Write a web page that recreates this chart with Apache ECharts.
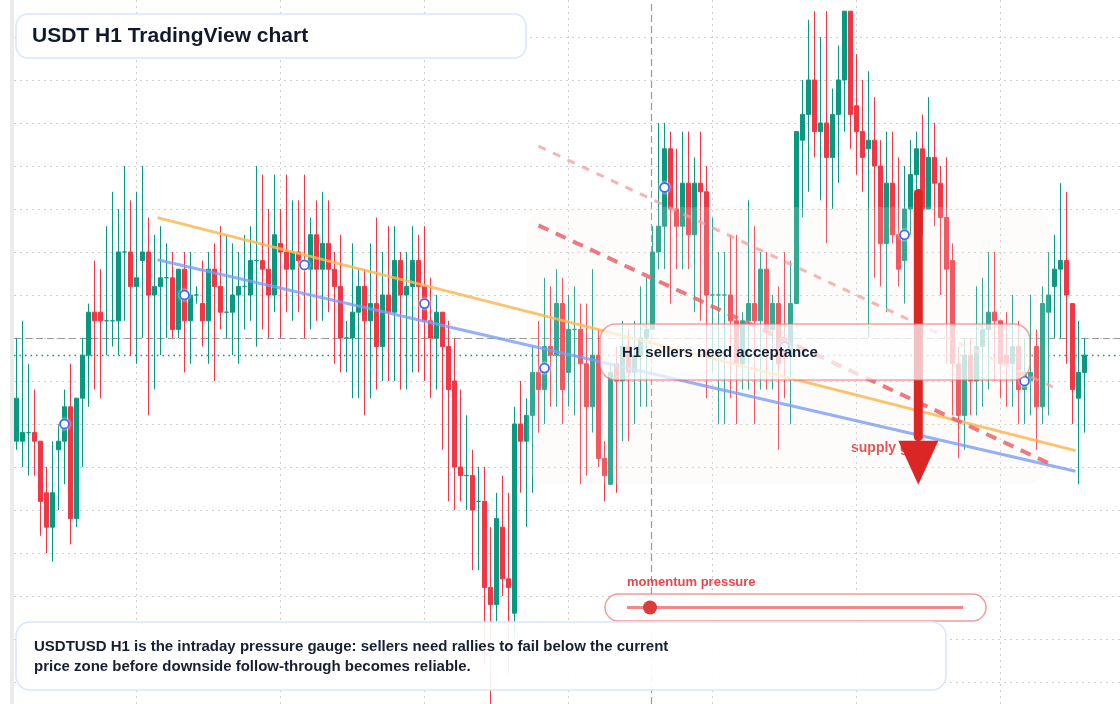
<!DOCTYPE html>
<html>
<head>
<meta charset="utf-8">
<title>USDT H1 TradingView chart</title>
<script src="https://cdn.jsdelivr.net/npm/echarts@6/dist/echarts.min.js"></script>
<style>
  html, body { margin: 0; padding: 0; background: #fff; }
  #chart { width: 1120px; height: 704px; }
</style>
</head>
<body>
<div id="chart"></div>
<script>
// H1 candles, oldest first (prices, 1 pip = 0.0001)
var openVals = [
  0.9988,0.9988,0.9989,0.9989,0.9988,0.9982,0.9978,0.9987,0.9988,0.9992,
  0.9979,0.9993,0.9998,1.0003,1.0003,1.0002,1.0002,1.0002,1.0010,1.0010,
  1.0006,1.0009,1.0010,1.0005,1.0006,1.0007,1.0007,1.0001,1.0008,1.0002,
  1.0005,1.0004,1.0002,1.0008,1.0006,1.0003,1.0003,1.0005,1.0006,1.0005,
  1.0009,1.0009,1.0008,1.0005,1.0011,1.0010,1.0008,1.0010,1.0009,1.0008,
  1.0012,1.0008,1.0011,1.0008,1.0006,1.0000,1.0000,1.0003,1.0006,1.0002,
  1.0004,0.9999,1.0005,1.0003,1.0009,1.0005,1.0006,1.0009,1.0006,1.0002,
  1.0000,1.0003,0.9999,0.9995,0.9985,0.9984,0.9984,0.9981,0.9981,0.9971,
  0.9969,0.9978,0.9972,0.9968,0.9990,0.9988,0.9991,0.9996,0.9994,0.9999,
  0.9998,1.0004,0.9996,1.0001,1.0001,0.9997,0.9992,0.9998,0.9986,0.9983,
  0.9997,0.9995,0.9999,0.9996,0.9998,1.0000,1.0001,1.0010,1.0013,1.0022,
  1.0015,1.0013,1.0018,1.0012,1.0018,1.0017,1.0005,1.0005,1.0005,1.0005,
  1.0002,0.9997,1.0002,1.0004,1.0002,1.0008,1.0001,1.0004,1.0000,0.9998,
  1.0004,1.0023,1.0026,1.0030,1.0024,1.0025,1.0021,1.0026,1.0030,1.0038,
  1.0027,1.0024,1.0022,1.0023,1.0020,1.0011,1.0018,1.0012,1.0009,1.0015,
  1.0019,1.0022,1.0015,1.0021,1.0018,1.0014,1.0009,0.9997,0.9991,0.9998,
  0.9995,0.9999,1.0001,1.0003,1.0002,0.9998,0.9997,0.9999,0.9994,0.9995,
  0.9999,0.9992,1.0003,1.0006,1.0008,1.0009,1.0004,0.9993,0.9996
];
var closeVals = [
  0.9993,0.9989,0.9989,0.9988,0.9981,0.9978,0.9982,0.9988,0.9992,0.9979,
  0.9993,0.9998,1.0003,1.0002,1.0002,1.0002,1.0002,1.0010,1.0010,1.0006,
  1.0007,1.0010,1.0005,1.0006,1.0007,1.0007,1.0001,1.0008,1.0002,1.0005,
  1.0005,1.0002,1.0008,1.0006,1.0003,1.0003,1.0005,1.0006,1.0006,1.0009,
  1.0009,1.0008,1.0005,1.0012,1.0010,1.0008,1.0010,1.0009,1.0008,1.0012,
  1.0008,1.0011,1.0008,1.0006,1.0000,1.0000,1.0003,1.0006,1.0002,1.0004,
  0.9999,1.0005,1.0003,1.0009,1.0005,1.0006,1.0009,1.0006,1.0002,1.0000,
  1.0003,0.9999,0.9994,0.9985,0.9984,0.9984,0.9980,0.9981,0.9971,0.9969,
  0.9979,0.9972,0.9971,0.9990,0.9988,0.9991,0.9996,0.9994,0.9999,0.9998,
  1.0004,0.9994,1.0001,1.0001,0.9997,0.9992,0.9998,0.9986,0.9984,0.9996,
  0.9995,0.9999,0.9996,0.9998,1.0000,1.0001,1.0010,1.0013,1.0022,1.0015,
  1.0013,1.0018,1.0012,1.0018,1.0017,1.0005,1.0005,1.0005,1.0005,1.0002,
  0.9997,1.0002,1.0004,1.0002,1.0008,1.0001,1.0004,0.9997,0.9998,1.0004,
  1.0024,1.0026,1.0030,1.0024,1.0025,1.0021,1.0026,1.0030,1.0038,1.0026,
  1.0024,1.0021,1.0023,1.0020,1.0011,1.0018,1.0012,1.0008,1.0015,1.0019,
  1.0022,1.0015,1.0021,1.0018,1.0014,1.0008,0.9997,0.9991,0.9998,0.9995,
  0.9999,1.0001,1.0003,1.0002,0.9997,0.9997,0.9999,0.9994,0.9996,0.9996,
  0.9992,1.0004,1.0005,1.0008,1.0009,1.0005,0.9994,0.9996,0.9998
];
var lowVals = [
  0.9987,0.9985,0.9984,0.9984,0.9977,0.9975,0.9974,0.9980,0.9983,0.9976,
  0.9978,0.9985,0.9992,0.9994,0.9993,0.9998,0.9999,0.9998,1.0002,0.9998,
  0.9997,1.0000,0.9991,0.9994,0.9998,1.0000,1.0000,1.0000,0.9996,0.9997,
  1.0004,0.9999,0.9997,0.9995,1.0001,1.0000,0.9998,0.9997,1.0001,1.0002,
  0.9999,1.0001,1.0000,1.0003,1.0000,1.0003,1.0002,1.0003,1.0000,1.0001,
  1.0002,1.0002,1.0003,0.9997,0.9996,0.9996,0.9993,0.9993,0.9991,0.9993,
  0.9994,0.9995,0.9995,0.9995,0.9994,0.9994,0.9996,0.9996,0.9995,0.9993,
  0.9994,0.9987,0.9981,0.9980,0.9981,0.9980,0.9973,0.9973,0.9962,0.9957,
  0.9967,0.9970,0.9961,0.9965,0.9982,0.9978,0.9982,0.9989,0.9990,0.9992,
  0.9992,0.9990,0.9992,0.9991,0.9983,0.9984,0.9989,0.9985,0.9981,0.9983,
  0.9982,0.9988,0.9988,0.9990,0.9992,0.9992,1.0001,1.0008,1.0008,1.0004,
  1.0008,1.0008,1.0008,1.0003,1.0002,0.9993,0.9996,0.9990,0.9990,0.9993,
  0.9990,0.9994,0.9994,0.9990,0.9994,0.9994,0.9994,0.9987,0.9993,0.9990,
  1.0004,1.0014,1.0017,1.0021,1.0016,1.0011,1.0015,1.0018,1.0024,1.0022,
  1.0019,1.0017,1.0000,1.0007,1.0006,1.0003,1.0011,1.0006,1.0004,1.0012,
  1.0015,1.0012,1.0015,1.0013,1.0005,0.9997,0.9991,0.9986,0.9987,0.9991,
  0.9991,0.9992,0.9994,0.9995,0.9993,0.9992,0.9992,0.9990,0.9990,0.9991,
  0.9987,0.9990,0.9991,1.0000,1.0000,0.9997,0.9990,0.9983,0.9989
];
var highVals = [
  1.0000,1.0002,0.9997,0.9994,0.9988,0.9985,0.9988,0.9990,0.9994,0.9997,
  0.9993,1.0000,1.0004,1.0009,1.0008,1.0013,1.0017,1.0015,1.0020,1.0016,
  1.0017,1.0020,1.0014,1.0012,1.0013,1.0011,1.0010,1.0008,1.0010,1.0010,
  1.0006,1.0009,1.0010,1.0011,1.0013,1.0012,1.0011,1.0010,1.0012,1.0013,
  1.0020,1.0019,1.0015,1.0019,1.0015,1.0019,1.0016,1.0016,1.0019,1.0014,
  1.0016,1.0017,1.0016,1.0010,1.0012,1.0002,1.0011,1.0008,1.0008,1.0011,
  1.0014,1.0010,1.0013,1.0013,1.0010,1.0010,1.0013,1.0012,1.0013,1.0007,
  1.0005,1.0003,1.0002,1.0000,0.9994,0.9991,0.9987,0.9985,0.9985,0.9978,
  0.9982,0.9984,0.9982,0.9992,0.9995,0.9993,0.9999,1.0002,1.0007,1.0006,
  1.0008,1.0007,1.0005,1.0006,1.0004,1.0004,1.0008,1.0001,0.9988,0.9997,
  0.9999,1.0002,1.0001,1.0002,1.0006,1.0007,1.0013,1.0025,1.0025,1.0024,
  1.0022,1.0024,1.0024,1.0021,1.0024,1.0020,1.0014,1.0010,1.0010,1.0012,
  1.0012,1.0003,1.0016,1.0013,1.0010,1.0010,1.0005,1.0006,1.0010,1.0009,
  1.0024,1.0030,1.0037,1.0038,1.0035,1.0038,1.0029,1.0034,1.0038,1.0038,
  1.0033,1.0030,1.0031,1.0028,1.0023,1.0024,1.0024,1.0021,1.0020,1.0023,
  1.0024,1.0026,1.0028,1.0025,1.0020,1.0021,1.0011,0.9999,1.0000,1.0000,
  1.0006,1.0007,1.0010,1.0010,1.0002,1.0003,1.0005,1.0002,1.0000,1.0005,
  1.0001,1.0006,1.0010,1.0012,1.0018,1.0017,1.0004,1.0002,1.0000
];

// bars with a blue pivot marker
var markerIdx = [8, 28, 48, 68, 88, 108, 128, 148, 168];

// price grid and time grid (labels are off-canvas)
var gridLevels = [0.9960, 0.9965, 0.9970, 0.9975, 0.9980, 0.9985, 0.9990, 0.9995,
                  1.0000, 1.0005, 1.0010, 1.0015, 1.0020, 1.0025, 1.0030, 1.0035];
var gridBars = [20, 44, 68, 92, 116, 140, 164];

// reference levels
var pivotLevel = 1.0000;
var lastPrice = 0.9998;
var sessionBar = 105.8;

// drawn lines, [bar position, price]
var orangeTrend = [[23.5, 1.00140], [176.5, 0.99869]];
var blueTrend = [[23.5, 1.00091], [176.5, 0.99845]];
var redChannel = [[87, 1.00131], [172.8, 0.99852]];
var pinkChannel = [[87, 1.00223], [172.7, 0.99943]];
var arrowShaft = [[150.3, 1.00168], [150.3, 0.99885]];
var arrowHead = [[150.3, 0.99855]];

var yMin = 0.995744, yMax = 1.003930;
var totalBars = 184; // empty slots on the right

// hourly labels (hidden)
var categories = [];
var t0 = Date.UTC(2024, 4, 6, 0);
for (var i = 0; i < totalBars; i++) {
  var d = new Date(t0 + i * 3600000);
  categories.push((d.getUTCMonth() + 1) + '/' + d.getUTCDate() + ' ' + d.getUTCHours() + ':00');
}

var candles = openVals.map(function (o, i) {
  return [o, closeVals[i], lowVals[i], highVals[i]];
});
var markers = markerIdx.map(function (i) {
  return [i, +((openVals[i] + closeVals[i]) / 2).toFixed(5)];
});

var UP = '#089981', DOWN = '#f23645';
var FONT = '"Liberation Sans", Arial, sans-serif';
var INK = '#172033';

// candle plot: bar i centred at 16.5 + 6 * i px
var plotLeft = 16.5, barPitch = 6, plotRight = 1120 - plotLeft - barPitch * (totalBars - 1);
// overlay grid spans the whole strip right of the axis bar
var overlayLeft = 14;

var refLines = [];
gridLevels.forEach(function (v) {
  refLines.push({ yAxis: v, lineStyle: { color: '#d0d0d0', type: [2, 4], width: 1 } });
});
gridBars.forEach(function (b) {
  refLines.push({ xAxis: b, lineStyle: { color: '#d0d0d0', type: [2, 4], width: 1 } });
});
refLines.push({ yAxis: pivotLevel, lineStyle: { color: '#9a9a9a', type: [7, 4], width: 1.2 } });
refLines.push({ yAxis: lastPrice, lineStyle: { color: UP, type: [1.5, 4], width: 1.3 } });
refLines.push({ xAxis: sessionBar, lineStyle: { color: '#9a9a9a', type: [7, 4], width: 1.2 } });

var chart = echarts.init(document.getElementById('chart'), null, { renderer: 'canvas' });

var hiddenY = {
  type: 'value', scale: true, min: yMin, max: yMax,
  axisLine: { show: false }, axisTick: { show: false },
  axisLabel: { show: false }, splitLine: { show: false }
};

chart.setOption({
  animation: false,
  backgroundColor: '#ffffff',
  grid: [
    { left: overlayLeft, right: 0, top: 0, bottom: 0 },
    { left: plotLeft, right: plotRight, top: 0, bottom: 0 }
  ],
  xAxis: [
    {
      // bar-position scale for drawings, matched to the candle grid
      gridIndex: 0,
      type: 'value',
      min: (overlayLeft - plotLeft) / barPitch,
      max: (1120 - plotLeft) / barPitch,
      show: false
    },
    {
      gridIndex: 1,
      type: 'category',
      data: categories,
      boundaryGap: false,
      axisLine: { show: false },
      axisTick: { show: false },
      axisLabel: { show: false },
      splitLine: { show: false }
    }
  ],
  yAxis: [
    Object.assign({ gridIndex: 0 }, hiddenY),
    Object.assign({ gridIndex: 1 }, hiddenY)
  ],
  series: [
    {
      type: 'candlestick',
      xAxisIndex: 1, yAxisIndex: 1,
      z: 2,
      silent: true,
      barWidth: 5,
      data: candles,
      itemStyle: {
        color: UP,
        color0: DOWN,
        borderColor: UP,
        borderColor0: DOWN,
        borderWidth: 1
      }
    },
    {
      type: 'line', xAxisIndex: 0, yAxisIndex: 0, z: 4, silent: true, symbol: 'none',
      data: orangeTrend,
      lineStyle: { color: '#fbb955', width: 3, opacity: 0.85 },
      markLine: {
        z: 1,
        silent: true,
        precision: 6,
        symbol: 'none',
        label: { show: false },
        emphasis: { disabled: true },
        data: refLines
      }
    },
    {
      type: 'line', xAxisIndex: 0, yAxisIndex: 0, z: 4, silent: true, symbol: 'none',
      data: blueTrend,
      lineStyle: { color: '#7b9cf4', width: 3, opacity: 0.8 }
    },
    {
      type: 'line', xAxisIndex: 0, yAxisIndex: 0, z: 4, silent: true, symbol: 'none',
      data: redChannel,
      lineStyle: { color: '#e8646c', width: 4, type: [11, 8], opacity: 0.85 }
    },
    {
      type: 'line', xAxisIndex: 0, yAxisIndex: 0, z: 4, silent: true, symbol: 'none',
      data: pinkChannel,
      lineStyle: { color: '#f19c9f', width: 3, type: [8, 8], opacity: 0.75 }
    },
    {
      type: 'line', xAxisIndex: 0, yAxisIndex: 0, zlevel: 1, z: 5, silent: true, symbol: 'none',
      data: arrowShaft,
      lineStyle: { color: '#dc2626', width: 9, cap: 'round' }
    },
    {
      type: 'scatter', xAxisIndex: 0, yAxisIndex: 0, zlevel: 1, z: 5, silent: true,
      data: arrowHead,
      symbol: 'triangle',
      symbolRotate: 180,
      symbolSize: [40, 44],
      itemStyle: { color: '#dc2626', opacity: 1 }
    },
    {
      type: 'scatter', xAxisIndex: 1, yAxisIndex: 1, z: 6, silent: true,
      data: markers,
      symbol: 'circle',
      symbolSize: 9,
      itemStyle: {
        color: '#ffffff',
        opacity: 1,
        borderColor: '#3d6cf0',
        borderWidth: 1.8,
        shadowBlur: 3,
        shadowColor: 'rgba(255,255,255,0.9)'
      }
    }
  ],
  graphic: [
    // left axis strip
    { type: 'rect', z: 1, silent: true, shape: { x: 10, y: 0, width: 4, height: 704 }, style: { fill: '#ebebeb' } },
    // supply zone shading
    { type: 'rect', z: 3, silent: true, shape: { x: 527, y: 207, width: 523, height: 277, r: 22 },
      style: { fill: 'rgba(250,238,228,0.18)' } },
    { type: 'text', z: 1, silent: true, x: 851, y: 448,
      style: { text: 'supply gate', fill: '#e03535', font: 'bold 14px ' + FONT, verticalAlign: 'middle' } },
    // acceptance box
    { type: 'rect', zlevel: 2, z: 10, silent: true, shape: { x: 600, y: 324, width: 430, height: 56, r: 16 },
      style: { fill: 'rgba(255,255,255,0.72)', stroke: 'rgba(236,100,100,0.6)', lineWidth: 1.6 } },
    { type: 'text', zlevel: 2, z: 11, silent: true, x: 622, y: 353,
      style: { text: 'H1 sellers need acceptance', fill: INK, font: 'bold 15px ' + FONT, verticalAlign: 'middle' } },
    // title
    { type: 'rect', zlevel: 2, z: 10, silent: true, shape: { x: 16, y: 14, width: 510, height: 44, r: 12 },
      style: { fill: '#ffffff', stroke: '#d9e6fb', lineWidth: 1.5 } },
    { type: 'text', zlevel: 2, z: 11, silent: true, x: 32, y: 36,
      style: { text: 'USDT H1 TradingView chart', fill: '#111a2c', font: 'bold 21px ' + FONT, verticalAlign: 'middle' } },
    // momentum pressure gauge
    { type: 'text', zlevel: 2, z: 11, silent: true, x: 627, y: 582,
      style: { text: 'momentum pressure', fill: '#e5484d', font: 'bold 13px ' + FONT, verticalAlign: 'middle' } },
    { type: 'rect', zlevel: 2, z: 10, silent: true, shape: { x: 605, y: 594, width: 381, height: 27, r: 13.5 },
      style: { fill: 'rgba(255,255,255,0.9)', stroke: 'rgba(232,90,90,0.6)', lineWidth: 1.5 } },
    { type: 'line', zlevel: 2, z: 11, silent: true, shape: { x1: 627, y1: 607.5, x2: 963, y2: 607.5 },
      style: { stroke: '#ee8a8a', lineWidth: 3 } },
    { type: 'circle', zlevel: 2, z: 12, silent: true, shape: { cx: 650, cy: 607.5, r: 7 },
      style: { fill: '#e03b3b' } },
    // note box
    { type: 'rect', zlevel: 2, z: 13, silent: true, shape: { x: 16, y: 622, width: 930, height: 68, r: 14 },
      style: { fill: 'rgba(255,255,255,0.92)', stroke: '#d9e6fb', lineWidth: 1.5 } },
    { type: 'text', zlevel: 2, z: 14, silent: true, x: 34, y: 647,
      style: { text: 'USDTUSD H1 is the intraday pressure gauge: sellers need rallies to fail below the current',
        fill: INK, font: 'bold 15px ' + FONT, verticalAlign: 'middle' } },
    { type: 'text', zlevel: 2, z: 14, silent: true, x: 34, y: 667,
      style: { text: 'price zone before downside follow-through becomes reliable.',
        fill: INK, font: 'bold 15px ' + FONT, verticalAlign: 'middle' } }
  ]
});

window.addEventListener('resize', function () { chart.resize(); });
</script>
</body>
</html>
